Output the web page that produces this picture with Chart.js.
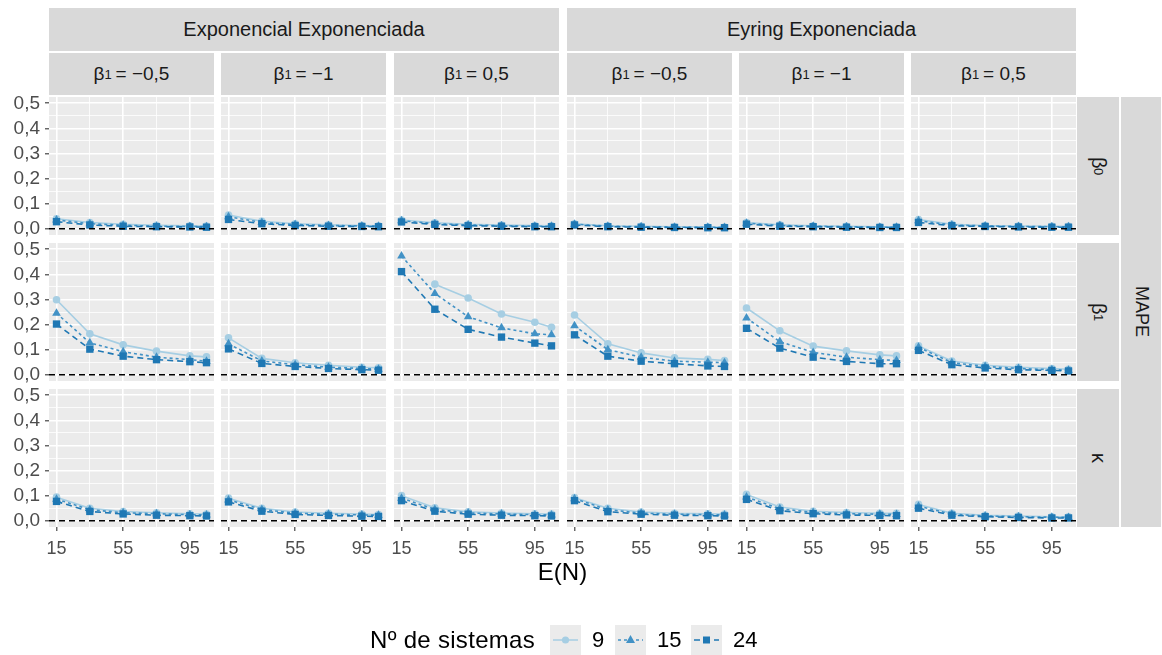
<!DOCTYPE html>
<html>
<head>
<meta charset="utf-8">
<script src="https://cdn.jsdelivr.net/npm/chart.js@4"></script>
<style>
  body { margin: 0; background: #fff; font-family: "Liberation Sans", Arial, sans-serif; }
  #wrap { position: relative; width: 1162px; height: 655px; overflow: hidden; }
  canvas.panel { position: absolute; left: 0; top: 0; }
  .strip { position: absolute; background: #d9d9d9; color: #1a1a1a; display: flex;
           align-items: center; justify-content: center; font-size: 20px; white-space: nowrap; }
  .strip.inner { font-size: 19px; }
  .vert { writing-mode: vertical-rl; }
  .strip sub { font-size: 13px; vertical-align: -4px; }
  .txt { position: absolute; white-space: nowrap; color: #000; }
</style>
</head>
<body>
<div id="wrap"></div>
<script>
// E(N) values on the x axis
const xValues = [15, 35, 55, 75, 95, 105];
const xTicks = [15, 35, 55, 75, 95];
const xMajor = [15, 55, 95];
const yTicks = [0, 0.05, 0.1, 0.15, 0.2, 0.25, 0.3, 0.35, 0.4, 0.45, 0.5];

const modelos = ["Exponencial Exponenciada", "Eyring Exponenciada"];
const betas = ["\u22120,5", "\u22121", "0,5"];
const parametros = [["β", "0"], ["β", "1"], ["κ", ""]];
const sistemas = ["9", "15", "24"];

// MAPE por painel (6 colunas: EE b1=-0.5, -1, 0.5, EyE b1=-0.5, -1, 0.5), 6 pontos cada
const b0_9 = [
  [0.040, 0.025, 0.018, 0.014, 0.012, 0.011],
  [0.055, 0.030, 0.020, 0.016, 0.013, 0.012],
  [0.035, 0.024, 0.018, 0.015, 0.013, 0.012],
  [0.020, 0.012, 0.010, 0.008, 0.007, 0.007],
  [0.025, 0.016, 0.012, 0.010, 0.008, 0.008],
  [0.037, 0.018, 0.013, 0.011, 0.010, 0.010]];
const b0_15 = [
  [0.035, 0.020, 0.014, 0.010, 0.009, 0.008],
  [0.048, 0.025, 0.017, 0.013, 0.011, 0.010],
  [0.032, 0.020, 0.015, 0.012, 0.010, 0.010],
  [0.018, 0.010, 0.008, 0.006, 0.006, 0.005],
  [0.022, 0.013, 0.010, 0.008, 0.006, 0.006],
  [0.032, 0.015, 0.011, 0.009, 0.008, 0.008]];
const b0_24 = [
  [0.028, 0.015, 0.010, 0.008, 0.007, 0.006],
  [0.037, 0.020, 0.013, 0.010, 0.009, 0.008],
  [0.027, 0.017, 0.012, 0.010, 0.008, 0.008],
  [0.015, 0.008, 0.006, 0.005, 0.004, 0.004],
  [0.018, 0.010, 0.008, 0.006, 0.005, 0.005],
  [0.025, 0.012, 0.009, 0.007, 0.006, 0.006]];

const b1_9 = [
  [0.299, 0.163, 0.119, 0.094, 0.075, 0.071],
  [0.147, 0.065, 0.048, 0.038, 0.030, 0.028],
  [null, 0.361, 0.306, 0.242, 0.209, 0.189],
  [0.238, 0.123, 0.087, 0.067, 0.061, 0.057],
  [0.266, 0.175, 0.114, 0.095, 0.079, 0.075],
  [0.115, 0.055, 0.038, 0.030, 0.025, 0.022]];
const b1_15 = [
  [0.245, 0.127, 0.092, 0.070, 0.060, 0.054],
  [0.123, 0.055, 0.040, 0.030, 0.025, 0.022],
  [0.473, 0.324, 0.231, 0.187, 0.163, 0.159],
  [0.195, 0.100, 0.070, 0.054, 0.050, 0.048],
  [0.226, 0.132, 0.089, 0.070, 0.060, 0.057],
  [0.110, 0.048, 0.033, 0.025, 0.020, 0.018]];
const b1_24 = [
  [0.202, 0.102, 0.074, 0.060, 0.052, 0.048],
  [0.103, 0.045, 0.033, 0.025, 0.020, 0.018],
  [0.411, 0.261, 0.181, 0.150, 0.126, 0.115],
  [0.159, 0.074, 0.054, 0.044, 0.035, 0.033],
  [0.185, 0.106, 0.070, 0.053, 0.044, 0.044],
  [0.097, 0.040, 0.027, 0.020, 0.017, 0.015]];

const k_9 = [
  [0.094, 0.050, 0.037, 0.032, 0.028, 0.027],
  [0.090, 0.050, 0.035, 0.030, 0.027, 0.025],
  [0.100, 0.052, 0.036, 0.031, 0.028, 0.027],
  [0.092, 0.050, 0.035, 0.030, 0.028, 0.027],
  [0.105, 0.055, 0.038, 0.033, 0.030, 0.030],
  [0.065, 0.030, 0.022, 0.019, 0.016, 0.016]];
const k_15 = [
  [0.086, 0.044, 0.032, 0.028, 0.024, 0.023],
  [0.083, 0.045, 0.030, 0.026, 0.023, 0.022],
  [0.090, 0.045, 0.031, 0.027, 0.024, 0.023],
  [0.088, 0.044, 0.030, 0.026, 0.024, 0.023],
  [0.095, 0.048, 0.033, 0.028, 0.026, 0.025],
  [0.058, 0.026, 0.019, 0.016, 0.014, 0.013]];
const k_24 = [
  [0.077, 0.037, 0.027, 0.022, 0.020, 0.019],
  [0.075, 0.038, 0.025, 0.021, 0.018, 0.017],
  [0.080, 0.038, 0.026, 0.022, 0.020, 0.019],
  [0.080, 0.036, 0.026, 0.022, 0.020, 0.019],
  [0.085, 0.040, 0.028, 0.023, 0.021, 0.020],
  [0.050, 0.022, 0.016, 0.013, 0.011, 0.011]];

const linhas = [[b0_9, b0_15, b0_24], [b1_9, b1_15, b1_24], [k_9, k_15, k_24]];

// estilos das series
const cores = ["#a6cee3", "#4292c6", "#1f78b4"];
const tracos = [[], [3, 3], [6, 4]];
const pontos = ["circle", "triangle", "rect"];
const raios = [3.8, 5, 5.2];

// geometria dos paineis
const W = 1162, H = 655;
const colLeft = [49, 221, 394, 567, 739, 911];
const rowTop = [97, 243, 389];
const panelW = 165, panelH = 138;
const xAxisH = 40;

const wrap = document.getElementById("wrap");

const fundoPainel = {
  id: "fundoPainel",
  beforeDraw(chart) {
    const a = chart.chartArea, c = chart.ctx;
    c.save();
    c.fillStyle = "#ebebeb";
    c.fillRect(a.left, a.top, a.right - a.left, a.bottom - a.top);
    c.restore();
  }
};
const linhaZero = {
  id: "linhaZero",
  afterDatasetsDraw(chart) {
    const a = chart.chartArea, c = chart.ctx;
    const y = chart.scales.y.getPixelForValue(0);
    c.save();
    c.strokeStyle = "#000";
    c.lineWidth = 1.3;
    c.setLineDash([6, 4]);
    c.beginPath();
    c.moveTo(a.left, y);
    c.lineTo(a.right, y);
    c.stroke();
    c.restore();
  }
};

function isMajorX(v) { return xMajor.includes(v); }
function isMajorY(v) { return Math.round(v * 100) % 10 === 0; }

function fixFit(size) {
  return scale => {
    if (scale.isHorizontal()) scale.height = size; else scale.width = size;
    scale.paddingLeft = scale.paddingRight = scale.paddingTop = scale.paddingBottom = 0;
  };
}

function makePanel(r, c) {
  const canvas = document.createElement("canvas");
  canvas.width = W; canvas.height = H; canvas.className = "panel";
  wrap.appendChild(canvas);
  const left = colLeft[c], top = rowTop[r];
  const yW = c === 0 ? left : 0;
  const xH = r === 2 ? xAxisH : 0;
  new Chart(canvas, {
    type: "line",
    data: {
      datasets: linhas[r].map((serie, k) => ({
        label: sistemas[k],
        data: xValues.map((x, i) => ({ x: x, y: serie[c][i] })),
        borderColor: cores[k],
        backgroundColor: cores[k],
        borderWidth: 1.6,
        borderDash: tracos[k],
        pointStyle: pontos[k],
        pointRadius: raios[k],
        pointBorderWidth: 0,
        tension: 0,
        order: 2 - k
      }))
    },
    options: {
      responsive: false,
      animation: false,
      events: [],
      layout: { padding: { left: left - yW, top: top, right: W - left - panelW, bottom: H - top - panelH - xH } },
      plugins: { legend: { display: false }, tooltip: { enabled: false } },
      scales: {
        x: {
          type: "linear", min: 10.5, max: 109.5,
          afterBuildTicks: s => { s.ticks = xTicks.map(v => ({ value: v })); },
          afterFit: fixFit(xH),
          ticks: {
            display: r === 2, autoSkip: false, maxRotation: 0, padding: 7,
            color: "#4d4d4d", font: { family: "Liberation Sans", size: 18 },
            callback: v => isMajorX(v) ? String(v) : ""
          },
          grid: {
            color: "#ffffff",
            lineWidth: ctx => isMajorX(ctx.tick.value) ? 1.6 : 0.8,
            drawTicks: r === 2, tickLength: 4, tickWidth: 1.1,
            tickColor: ctx => isMajorX(ctx.tick.value) ? "#333333" : "rgba(0,0,0,0)"
          },
          border: { display: false }
        },
        y: {
          type: "linear", min: -0.025, max: 0.525,
          afterBuildTicks: s => { s.ticks = yTicks.map(v => ({ value: v })); },
          afterFit: fixFit(yW),
          ticks: {
            display: c === 0, autoSkip: false, padding: 5,
            color: "#4d4d4d", font: { family: "Liberation Sans", size: 19 },
            callback: v => isMajorY(v) ? v.toFixed(1).replace(".", ",") : ""
          },
          grid: {
            color: "#ffffff",
            lineWidth: ctx => isMajorY(ctx.tick.value) ? 1.6 : 0.8,
            drawTicks: c === 0, tickLength: 4, tickWidth: 1.1,
            tickColor: ctx => isMajorY(ctx.tick.value) ? "#333333" : "rgba(0,0,0,0)"
          },
          border: { display: false }
        }
      }
    },
    plugins: [fundoPainel, linhaZero]
  });
}

function addDiv(cls, css, html) {
  const d = document.createElement("div");
  d.className = cls;
  Object.assign(d.style, css);
  d.innerHTML = html;
  wrap.appendChild(d);
  return d;
}

// faixas superiores
modelos.forEach((m, i) => {
  const l = colLeft[i * 3], r = colLeft[i * 3 + 2] + panelW;
  addDiv("strip", { left: l + "px", top: "8px", width: (r - l) + "px", height: "43px" }, m);
});
for (let c = 0; c < 6; c++) {
  addDiv("strip inner", { left: colLeft[c] + "px", top: "53px", width: panelW + "px", height: "42px" },
    "β<sub>1</sub>&thinsp;=&nbsp;" + betas[c % 3]);
}
// faixas laterais
parametros.forEach((p, r) => {
  addDiv("strip vert", { left: "1077px", top: rowTop[r] + "px", width: "42px", height: panelH + "px" },
    p[0] + (p[1] ? "<sub>" + p[1] + "</sub>" : ""));
});
addDiv("strip vert", { left: "1121px", top: rowTop[0] + "px", width: "40px",
  height: (rowTop[2] + panelH - rowTop[0]) + "px", fontSize: "18px" }, "MAPE");

for (let r = 0; r < 3; r++) for (let c = 0; c < 6; c++) makePanel(r, c);

// titulo do eixo x
addDiv("txt", { left: "0px", width: "1125px", top: "558px", fontSize: "24px", textAlign: "center" }, "E(N)");

// legenda
addDiv("txt", { left: "370px", top: "626px", fontSize: "24px", letterSpacing: "0.3px" }, "Nº de sistemas");
const chaveX = [550, 615, 691];
const rotuloX = [592, 657, 733];
sistemas.forEach((s, k) => {
  const cv = document.createElement("canvas");
  cv.width = 31; cv.height = 30;
  Object.assign(cv.style, { position: "absolute", left: chaveX[k] + "px", top: "625px" });
  wrap.appendChild(cv);
  const g = cv.getContext("2d");
  g.fillStyle = "#ebebeb"; g.fillRect(0, 0, 31, 30);
  g.strokeStyle = cores[k]; g.lineWidth = 1.5; g.setLineDash(tracos[k]);
  g.beginPath(); g.moveTo(3, 15); g.lineTo(28, 15); g.stroke();
  g.setLineDash([]);
  g.fillStyle = cores[k];
  g.beginPath();
  if (k === 0) { g.arc(15.5, 15, 3.6, 0, Math.PI * 2); }
  else if (k === 1) { g.moveTo(15.5, 10); g.lineTo(20, 18); g.lineTo(11, 18); g.closePath(); }
  else { g.rect(12, 11.5, 7, 7); }
  g.fill();
  addDiv("txt", { left: rotuloX[k] + "px", top: "627px", fontSize: "22px" }, s);
});
</script>
</body>
</html>
